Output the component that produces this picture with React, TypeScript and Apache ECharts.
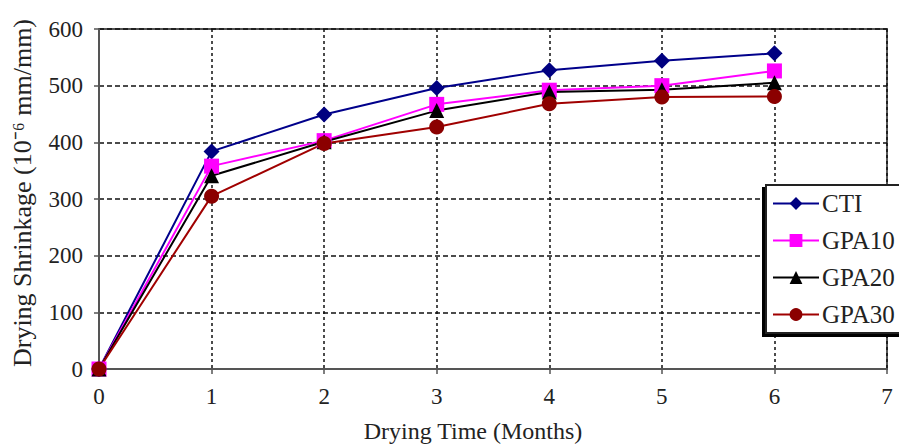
import React, { useEffect, useRef } from "react";
import * as echarts from "echarts";

const months = [0, 1, 2, 3, 4, 5, 6];
const cti = [0, 384, 449, 496, 527, 544, 557];
const gpa10 = [0, 358, 403, 467, 492, 500, 526];
const gpa20 = [0, 341, 401, 456, 489, 493, 505];
const gpa30 = [0, 305, 398, 427, 468, 480, 481];
const seriesNames = ["CTI", "GPA10", "GPA20", "GPA30"];
const FONT = "Liberation Serif";

export default function App() {
  const ref = useRef<HTMLDivElement>(null);
  useEffect(() => {
    if (!ref.current) return;
    const chart = echarts.init(ref.current, undefined, { renderer: "svg" });
    const mk = (name: string, vals: number[], color: string, lineColor: string, symbol: string, size: number) => ({
      name,
      type: "line",
      data: months.map((m, i) => [m, vals[i]]),
      symbol,
      symbolSize: size,
      itemStyle: { color },
      lineStyle: { color: lineColor, width: 2 },
      z: 3,
    });
    chart.setOption({
      animation: false,
      backgroundColor: "#fff",
      grid: {
        left: 99,
        right: 12,
        top: 29,
        bottom: 77,
        show: true,
        borderColor: "#555",
        borderWidth: 2,
        backgroundColor: "transparent",
      },
      legend: {
        data: seriesNames,
        orient: "vertical",
        left: 766,
        top: 185,
        itemWidth: 46,
        itemHeight: 16,
        itemGap: 12,
        padding: [6, 8, 6, 6],
        backgroundColor: "#fff",
        borderColor: "#222",
        borderWidth: 2,
        borderRadius: 0,
        shadowColor: "#000",
        shadowBlur: 0,
        shadowOffsetX: -3,
        shadowOffsetY: 3,
        textStyle: { fontFamily: FONT, fontSize: 25, color: "#222", padding: [0, 0, 0, -2] },
      },
      xAxis: {
        type: "value",
        min: 0,
        max: 7,
        interval: 1,
        name: "Drying Time (Months)",
        nameLocation: "middle",
        nameGap: 50,
        nameTextStyle: { fontFamily: FONT, fontSize: 24, color: "#222", padding: [0, 40, 0, 0] },
        axisLine: { show: true, lineStyle: { color: "#555", width: 2 } },
        axisTick: { show: true, length: 5, lineStyle: { color: "#555", width: 1.5 } },
        axisLabel: { fontFamily: FONT, fontSize: 23, color: "#222", margin: 16 },
        splitLine: { show: true, lineStyle: { color: "#111", type: [3, 3], width: 1.5 } },
      },
      yAxis: {
        type: "value",
        min: 0,
        max: 600,
        interval: 100,
        name: "Drying Shrinkage (10\u207B\u2076 mm/mm)",
        nameLocation: "middle",
        nameGap: 64,
        nameTextStyle: { fontFamily: FONT, fontSize: 26, color: "#222", padding: [0, 0, 0, 12] },
        axisLine: { show: true, lineStyle: { color: "#555", width: 2 } },
        axisTick: { show: true, length: 5, lineStyle: { color: "#555", width: 1.5 } },
        axisLabel: { fontFamily: FONT, fontSize: 23, color: "#222", margin: 16 },
        splitLine: { show: true, lineStyle: { color: "#111", type: [5, 3], width: 1.5 } },
      },
      series: [
        mk("CTI", cti, "#000080", "#00008B", "diamond", 16),
        mk("GPA10", gpa10, "#FF00FF", "#FF00FF", "rect", 15),
        mk("GPA20", gpa20, "#000000", "#000000", "triangle", 15),
        mk("GPA30", gpa30, "#8B0000", "#A00000", "circle", 15),
      ],
    });
    return () => chart.dispose();
  }, []);
  return <div ref={ref} style={{ width: 899, height: 448, position: "absolute", left: 0, top: 0 }} />;
}
